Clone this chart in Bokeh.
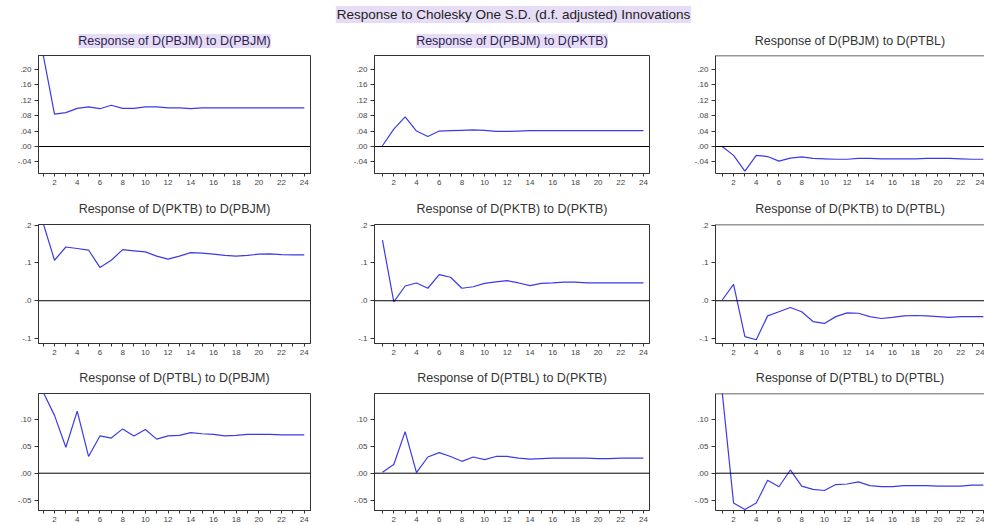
from bokeh.plotting import figure
from bokeh.models import Span, FixedTicker, Label, Range1d
from bokeh.layouts import column, row
from bokeh.embed import file_html
from bokeh.resources import INLINE

# ---------------- data ----------------
periods = list(range(1, 25))

main_title = "Response to Cholesky One S.D. (d.f. adjusted) Innovations"

titles = [
    "Response of D(PBJM) to D(PBJM)", "Response of D(PBJM) to D(PKTB)", "Response of D(PBJM) to D(PTBL)",
    "Response of D(PKTB) to D(PBJM)", "Response of D(PKTB) to D(PKTB)", "Response of D(PKTB) to D(PTBL)",
    "Response of D(PTBL) to D(PBJM)", "Response of D(PTBL) to D(PKTB)", "Response of D(PTBL) to D(PTBL)",
]

pbjm_to_pbjm = [0.238, 0.084, 0.088, 0.099, 0.103, 0.098, 0.107, 0.099, 0.099, 0.103, 0.103, 0.100,
                0.100, 0.098, 0.100, 0.100, 0.100, 0.100, 0.100, 0.100, 0.100, 0.100, 0.100, 0.100]
pbjm_to_pktb = [0.002, 0.045, 0.077, 0.040, 0.026, 0.040, 0.041, 0.042, 0.043, 0.042, 0.039, 0.039,
                0.040, 0.041, 0.041, 0.041, 0.041, 0.041, 0.041, 0.041, 0.041, 0.041, 0.041, 0.041]
pbjm_to_ptbl = [0.000, -0.023, -0.064, -0.023, -0.026, -0.038, -0.030, -0.027, -0.031, -0.032, -0.033, -0.033,
                -0.031, -0.031, -0.032, -0.032, -0.032, -0.032, -0.031, -0.031, -0.031, -0.032, -0.033, -0.033]

pktb_to_pbjm = [0.205, 0.107, 0.142, 0.138, 0.134, 0.088, 0.107, 0.135, 0.132, 0.129, 0.118, 0.110,
                0.118, 0.127, 0.126, 0.123, 0.120, 0.118, 0.120, 0.123, 0.124, 0.122, 0.121, 0.121]
pktb_to_pktb = [0.160, -0.003, 0.039, 0.047, 0.033, 0.069, 0.062, 0.033, 0.037, 0.046, 0.050, 0.053,
                0.047, 0.040, 0.046, 0.047, 0.049, 0.049, 0.047, 0.047, 0.047, 0.047, 0.047, 0.047]
pktb_to_ptbl = [0.002, 0.043, -0.095, -0.103, -0.040, -0.029, -0.018, -0.029, -0.055, -0.060, -0.042, -0.032,
                -0.033, -0.042, -0.047, -0.044, -0.040, -0.039, -0.040, -0.042, -0.044, -0.042, -0.042, -0.042]

ptbl_to_pbjm = [0.150, 0.107, 0.048, 0.115, 0.031, 0.069, 0.065, 0.082, 0.069, 0.081, 0.063, 0.069,
                0.070, 0.075, 0.073, 0.072, 0.069, 0.070, 0.072, 0.072, 0.072, 0.071, 0.071, 0.071]
ptbl_to_pktb = [0.002, 0.016, 0.077, 0.001, 0.030, 0.038, 0.031, 0.022, 0.030, 0.025, 0.031, 0.031,
                0.028, 0.026, 0.027, 0.028, 0.028, 0.028, 0.028, 0.027, 0.027, 0.028, 0.028, 0.028]
ptbl_to_ptbl = [0.150, -0.055, -0.067, -0.055, -0.013, -0.025, 0.006, -0.024, -0.030, -0.032, -0.021, -0.020,
                -0.016, -0.023, -0.025, -0.025, -0.023, -0.023, -0.023, -0.024, -0.024, -0.024, -0.022, -0.022]

series = [pbjm_to_pbjm, pbjm_to_pktb, pbjm_to_ptbl,
          pktb_to_pbjm, pktb_to_pktb, pktb_to_ptbl,
          ptbl_to_pbjm, ptbl_to_pktb, ptbl_to_ptbl]

x_tick_labels = [2, 4, 6, 8, 10, 12, 14, 16, 18, 20, 22, 24]
x_minor = [1, 3, 5, 7, 9, 11, 13, 15, 17, 19, 21, 23]

row_yticks = [[-0.04, 0.0, 0.04, 0.08, 0.12, 0.16, 0.20],
              [-0.1, 0.0, 0.1, 0.2],
              [-0.05, 0.0, 0.05, 0.10]]
row_ylabels = [["-.04", ".00", ".04", ".08", ".12", ".16", ".20"],
               ["-.1", ".0", ".1", ".2"],
               ["-.05", ".00", ".05", ".10"]]
row_yrange = [(-0.07, 0.236), (-0.113, 0.2015), (-0.069, 0.1475)]

# ---------------- style / layout ----------------
FONT = "Liberation Sans"
LINE = "#3b3be6"
FRAME = "#333333"
HL = "#e6dcf6"

col_w = [338, 330, 316]
col_mb = [(38, 28), (36, 19), (47, 0)]
col_xr = [(0.59, 24.55), (0.3, 24.53), (0.41, 24.1)]
header_h = 24
row_h = [166, 169, 166]
row_mb = [(31, 17), (34, 16), (34, 15)]
row_standoff = [15, 17, 17]

header = figure(width=984, height=header_h, x_range=Range1d(0, 984), y_range=Range1d(0, header_h),
                x_axis_type=None, y_axis_type=None, toolbar_location=None,
                output_backend="svg", min_border=0, outline_line_color=None)
header.grid.visible = False
header.add_layout(Label(x=513, y=header_h - 14, text=main_title, text_align="center", text_baseline="middle",
                        text_font=FONT, text_font_size="13.5px", text_color="#222222",
                        background_fill_color=HL, padding=1))

rows = []
for r in range(3):
    figs = []
    for c in range(3):
        i = r * 3 + c
        p = figure(width=col_w[c], height=row_h[r],
                   x_range=Range1d(*col_xr[c]), y_range=Range1d(*row_yrange[r]),
                   toolbar_location=None, output_backend="svg",
                   min_border_left=col_mb[c][0], min_border_right=col_mb[c][1],
                   min_border_top=row_mb[r][0], min_border_bottom=row_mb[r][1],
                   background_fill_color="white", border_fill_color="white")
        p.grid.visible = False
        if c < 2:
            p.outline_line_color = FRAME
            p.outline_line_width = 1
        else:
            p.outline_line_color = None
            p.add_layout(Span(location=row_yrange[r][1], dimension="width",
                              line_color=FRAME, line_width=1.5))
        # title
        p.title.text = titles[i]
        p.title.align = "center"
        p.title.text_font = FONT
        p.title.text_font_size = "12.5px"
        p.title.text_font_style = "normal"
        p.title.standoff = row_standoff[r]
        if r == 0 and c < 2:
            p.title.background_fill_color = HL
            p.title.text_color = "#2b2250"
        else:
            p.title.text_color = "#333333"

        # axes
        xa = p.xaxis[0]
        xa.ticker = FixedTicker(ticks=x_tick_labels, minor_ticks=x_minor)
        xa.major_tick_in = 0
        xa.major_tick_out = 3
        xa.minor_tick_in = 0
        xa.minor_tick_out = 3
        xa.axis_line_color = FRAME
        xa.major_tick_line_color = FRAME
        xa.minor_tick_line_color = FRAME
        xa.major_label_text_font = FONT
        xa.major_label_text_font_size = "8px"
        xa.major_label_text_color = "#444444"
        xa.major_label_standoff = 3

        ya = p.yaxis[0]
        ya.ticker = FixedTicker(ticks=row_yticks[r])
        ya.major_label_overrides = {t: l for t, l in zip(row_yticks[r], row_ylabels[r])}
        ya.major_tick_in = 0
        ya.major_tick_out = 4
        ya.minor_tick_line_color = None
        ya.axis_line_color = FRAME
        ya.major_tick_line_color = FRAME
        ya.major_label_text_font = FONT
        ya.major_label_text_font_size = "8px"
        ya.major_label_text_color = "#444444"
        ya.major_label_standoff = 3

        p.add_layout(Span(location=0, dimension="width", line_color="black", line_width=1))
        p.line(periods, series[i], line_color=LINE, line_width=1.2)
        figs.append(p)
    rows.append(row(*figs, spacing=0))

layout = column(header, *rows, spacing=0)

open("out.html", "w").write(file_html(layout, INLINE))
